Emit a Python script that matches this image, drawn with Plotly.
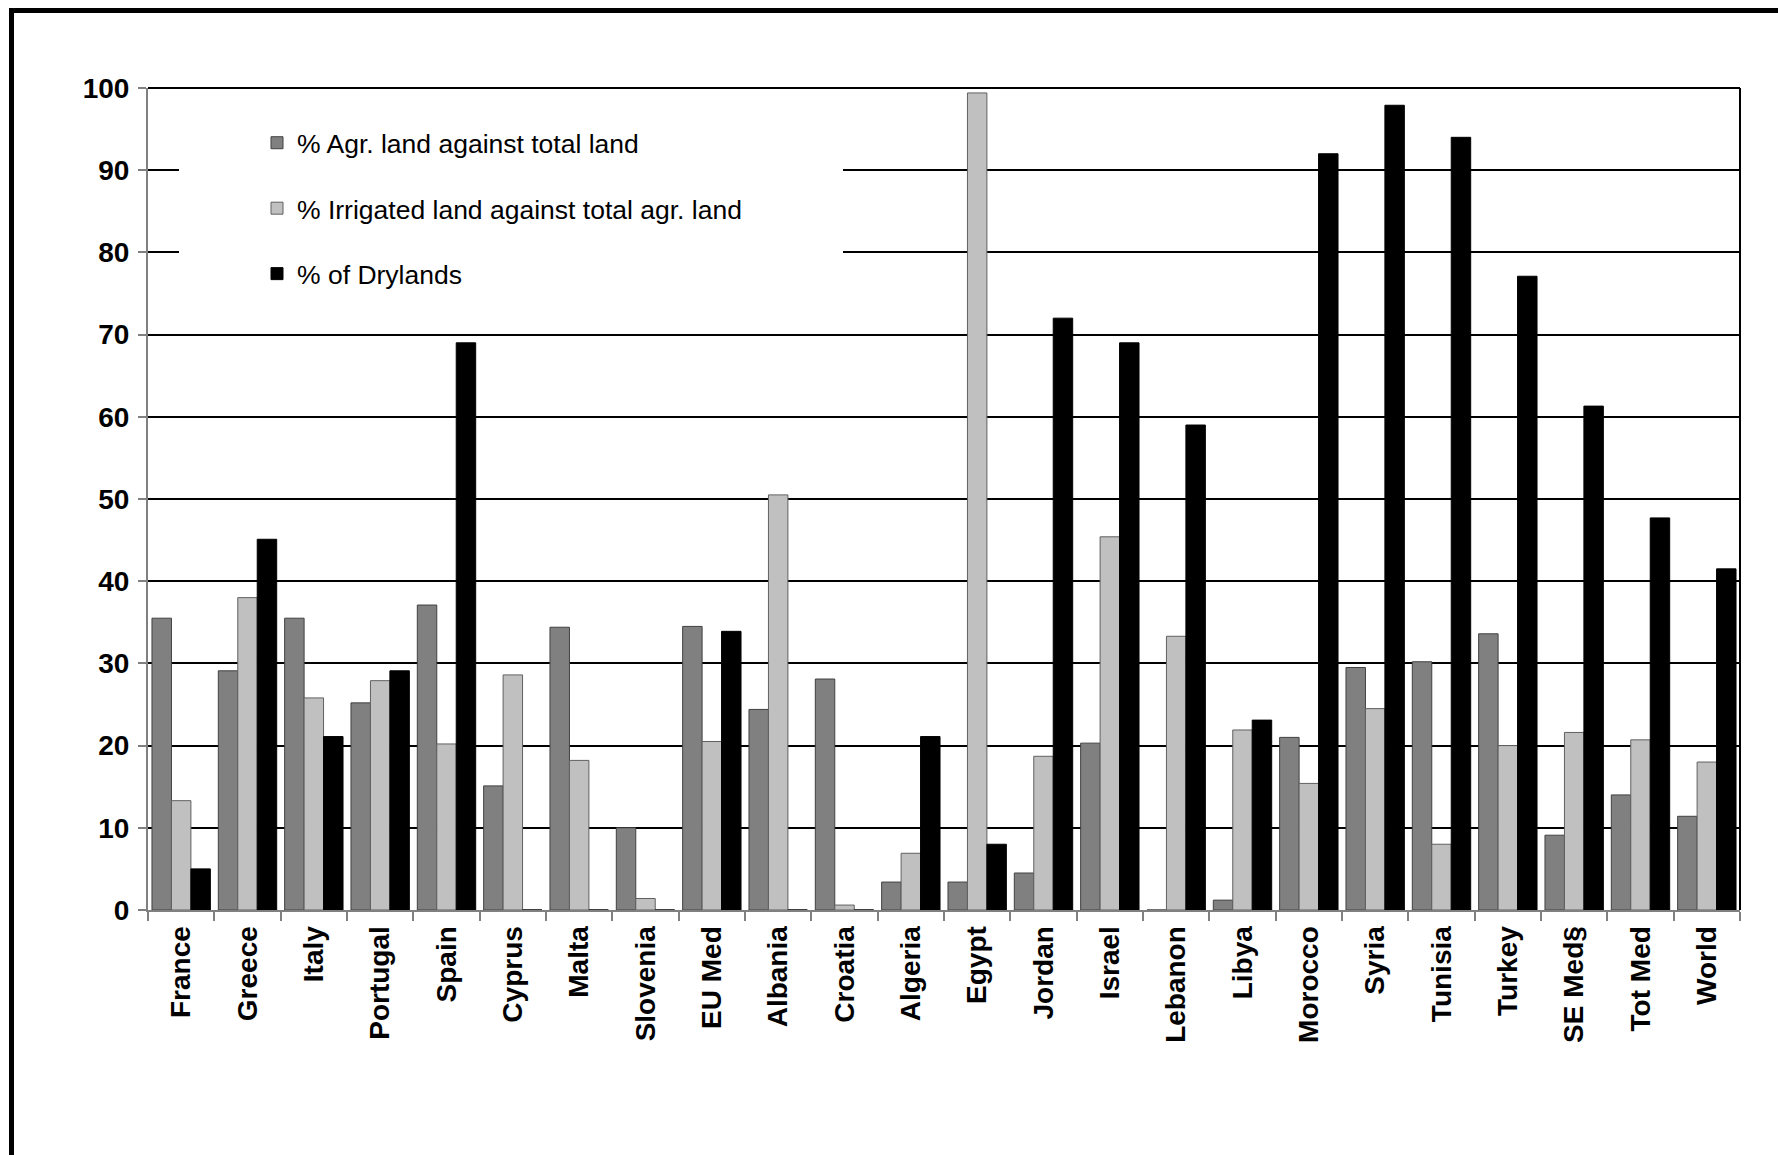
import plotly.graph_objects as go

# Country / region groups along the x axis
categories = ["France", "Greece", "Italy", "Portugal", "Spain", "Cyprus", "Malta",
              "Slovenia", "EU Med", "Albania", "Croatia", "Algeria", "Egypt", "Jordan",
              "Israel", "Lebanon", "Libya", "Morocco", "Syria", "Tunisia", "Turkey",
              "SE Med§", "Tot Med", "World"]

# % agricultural land against total land
agr_land = [35.5, 29.1, 35.5, 25.2, 37.1, 15.1, 34.4, 10.0, 34.5, 24.4, 28.1, 3.4,
            3.4, 4.5, 20.3, 0.0, 1.2, 21.0, 29.5, 30.2, 33.6, 9.1, 14.0, 11.4]

# % irrigated land against total agricultural land
irrigated = [13.3, 38.0, 25.8, 27.9, 20.2, 28.6, 18.2, 1.4, 20.5, 50.5, 0.6, 6.9,
             99.4, 18.7, 45.4, 33.3, 21.9, 15.4, 24.5, 8.0, 20.0, 21.6, 20.7, 18.0]

# % of drylands
drylands = [5.0, 45.1, 21.1, 29.1, 69.0, 0.0, 0.0, 0.0, 33.9, 0.0, 0.0, 21.1,
            8.0, 72.0, 69.0, 59.0, 23.1, 92.0, 97.9, 94.0, 77.1, 61.3, 47.7, 41.5]

y_ticks = [0, 10, 20, 30, 40, 50, 60, 70, 80, 90, 100]

FONT = "Liberation Sans, Arial, sans-serif"
W, H = 1778, 1155
ML, MR, MT, MB = 148, 38, 88, 245
plot_w = W - ML - MR
plot_h = H - MT - MB


def px_x(px):
    return (px - ML) / plot_w


def px_y(py):
    return (H - MB - py) / plot_h


series = [
    ("% Agr. land against total land", agr_land, "#808080", "#404040"),
    ("% Irrigated land against total agr. land", irrigated, "#c0c0c0", "#606060"),
    ("% of Drylands", drylands, "#000000", "#000000"),
]

fig = go.Figure()
for i, (name, vals, fill, edge) in enumerate(series):
    fig.add_trace(go.Bar(
        x=categories, y=vals, name=name, legendgroup=f"g{i}",
        marker=dict(color=fill, line=dict(color=edge, width=1)),
    ))

fig.update_layout(
    width=W, height=H,
    margin=dict(l=ML, r=MR, t=MT, b=MB, pad=0),
    paper_bgcolor="white", plot_bgcolor="white",
    barmode="group", bargap=0.12, bargroupgap=0,
    font=dict(family=FONT, color="black"),
    showlegend=True,
    legend=dict(
        x=px_x(257), y=px_y(119), xanchor="left", yanchor="top",
        bgcolor="rgba(255,255,255,0)", borderwidth=0,
        font=dict(family=FONT, size=26.5, color="black"),
        tracegroupgap=28, traceorder="grouped",
    ),
    xaxis=dict(
        type="category", showgrid=False, zeroline=False,
        showline=True, linecolor="#808080", linewidth=2,
        ticks="outside", tickson="boundaries", ticklen=9, tickcolor="#808080", tickwidth=2,
        tickangle=-90, tickfont=dict(family=FONT, size=28, color="black", weight="bold"),
        ticklabelstandoff=3,
    ),
    yaxis=dict(
        range=[0, 100], tickvals=y_ticks, ticktext=[str(v) for v in y_ticks],
        showgrid=True, gridcolor="black", gridwidth=2, zeroline=False,
        showline=True, linecolor="#808080", linewidth=2,
        ticks="outside", ticklen=8, tickcolor="#808080", tickwidth=2,
        tickfont=dict(family=FONT, size=28, color="black", weight="bold"),
        ticklabelstandoff=3,
    ),
    shapes=[
        # white panel behind the legend, interrupting the grid
        dict(type="rect", xref="paper", yref="y", x0=px_x(179), x1=px_x(843), y0=73, y1=97,
             fillcolor="white", line=dict(width=0), layer="above"),
        # top and right edges of the plotting area
        dict(type="line", xref="paper", yref="paper", x0=0, x1=1, y0=1, y1=1,
             line=dict(color="black", width=2)),
        dict(type="line", xref="paper", yref="paper", x0=1, x1=1, y0=0, y1=1,
             line=dict(color="black", width=2)),
        # outer frame around the chart
        dict(type="rect", xref="paper", yref="paper",
             x0=px_x(11.5), x1=px_x(1800), y0=px_y(1200), y1=px_y(10.5),
             fillcolor="rgba(0,0,0,0)", line=dict(color="black", width=5)),
    ],
)

fig.write_html("out.html")
